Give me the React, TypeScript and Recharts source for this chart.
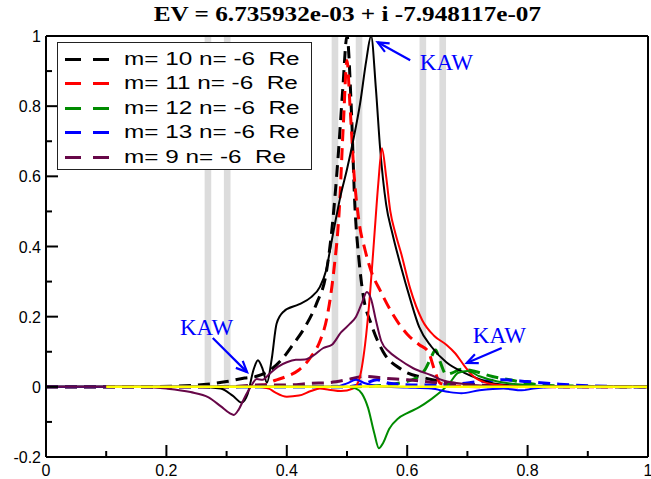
import React from "react";
import {
  LineChart,
  Line,
  XAxis,
  YAxis,
  ReferenceArea,
  ReferenceLine,
  ReferenceDot,
} from "recharts";

// axis ticks (minor + major)
const xTicks = [0, 0.1, 0.2, 0.3, 0.4, 0.5, 0.6, 0.7, 0.8, 0.9, 1];
const yTicks = [-0.2, -0.1, 0, 0.1, 0.2, 0.3, 0.4, 0.5, 0.6, 0.7, 0.8, 0.9, 1];
const xMajor = [0, 0.2, 0.4, 0.6, 0.8, 1];
const yMajor = [-0.2, 0, 0.2, 0.4, 0.6, 0.8, 1];

// gray vertical bands (x positions of the resonances)
const bandCenters = [0.269, 0.301, 0.48, 0.52, 0.626, 0.659];

// m=10 Re (black dashed)
const m10ReX = [0, 0.15, 0.25, 0.3, 0.33, 0.35, 0.37, 0.39, 0.41, 0.43, 0.45, 0.465, 0.475, 0.485, 0.493, 0.5, 0.507, 0.513, 0.52, 0.527, 0.54, 0.56, 0.59, 0.63, 0.67, 0.72, 0.8, 1];
const m10ReY = [0, 0, 0.005, 0.015, 0.025, 0.03, 0.045, 0.075, 0.12, 0.17, 0.24, 0.32, 0.45, 0.65, 0.85, 1.0, 0.8, 0.52, 0.36, 0.26, 0.18, 0.1, 0.05, 0.025, 0.012, 0.005, 0.001, 0];

// m=11 Re (red dashed)
const m11ReX = [0, 0.3, 0.36, 0.38, 0.4, 0.42, 0.44, 0.455, 0.467, 0.478, 0.487, 0.494, 0.5, 0.505, 0.512, 0.52, 0.53, 0.54, 0.555, 0.575, 0.6, 0.62, 0.635, 0.645, 0.655, 0.68, 0.75, 1];
const m11ReY = [0, 0, 0.005, 0.018, 0.03, 0.048, 0.085, 0.13, 0.2, 0.33, 0.5, 0.75, 0.93, 0.8, 0.6, 0.47, 0.39, 0.33, 0.275, 0.21, 0.15, 0.12, 0.1, 0.05, 0.01, 0.002, 0, 0];

// m=12 Re (green dashed)
const m12ReX = [0, 0.5, 0.55, 0.59, 0.615, 0.63, 0.64, 0.647, 0.655, 0.665, 0.675, 0.69, 0.71, 0.74, 0.77, 0.8, 0.85, 1];
const m12ReY = [0, 0, 0.003, 0.012, 0.025, 0.05, 0.085, 0.105, 0.07, 0.035, 0.04, 0.05, 0.045, 0.03, 0.02, 0.01, 0.003, 0];

// m=13 Re (blue dashed)
const m13ReX = [0, 0.5, 0.53, 0.55, 0.57, 0.62, 0.68, 0.72, 0.76, 0.8, 0.85, 0.9, 1];
const m13ReY = [0, 0, 0.01, 0.02, 0.01, 0.005, 0.008, 0.015, 0.02, 0.015, 0.008, 0.003, 0];

// m=9 Re (maroon dashed)
const m9ReX = [0, 0.3, 0.35, 0.4, 0.44, 0.47, 0.5, 0.53, 0.56, 0.6, 0.65, 0.7, 0.8, 1];
const m9ReY = [0, 0, 0.005, 0.005, 0.01, 0.012, 0.02, 0.03, 0.025, 0.02, 0.012, 0.006, 0.001, 0];

// m=10 Im (black solid)
const m10ImX = [0, 0.25, 0.29, 0.31, 0.325, 0.335, 0.345, 0.352, 0.36, 0.367, 0.375, 0.383, 0.395, 0.42, 0.44, 0.455, 0.465, 0.475, 0.49, 0.5, 0.51, 0.522, 0.532, 0.54, 0.548, 0.555, 0.565, 0.575, 0.59, 0.605, 0.62, 0.64, 0.665, 0.695, 0.72, 0.75, 0.8, 1];
const m10ImY = [0, 0, -0.005, -0.025, -0.045, -0.02, 0.05, 0.076, 0.05, 0.012, 0.08, 0.18, 0.215, 0.235, 0.255, 0.285, 0.33, 0.42, 0.55, 0.62, 0.7, 0.81, 0.93, 1.0, 0.85, 0.68, 0.52, 0.44, 0.34, 0.25, 0.17, 0.115, 0.07, 0.04, 0.022, 0.008, 0.002, 0];

// m=11 Im (red solid)
const m11ImX = [0, 0.35, 0.37, 0.38, 0.4, 0.42, 0.44, 0.455, 0.47, 0.49, 0.51, 0.52, 0.53, 0.538, 0.545, 0.552, 0.558, 0.565, 0.572, 0.58, 0.59, 0.605, 0.625, 0.645, 0.665, 0.68, 0.695, 0.71, 0.73, 0.76, 0.8, 1];
const m11ImY = [0, 0, -0.005, -0.015, -0.028, -0.025, -0.012, -0.005, -0.008, -0.012, -0.005, 0.02, 0.12, 0.26, 0.42, 0.58, 0.68, 0.6, 0.5, 0.44, 0.38, 0.28, 0.19, 0.145, 0.12, 0.095, 0.06, 0.03, 0.012, 0.004, 0, 0];

// m=12 Im (green solid)
const m12ImX = [0, 0.5, 0.515, 0.525, 0.535, 0.545, 0.553, 0.56, 0.57, 0.585, 0.6, 0.62, 0.64, 0.655, 0.67, 0.685, 0.7, 0.72, 0.75, 0.8, 0.85, 1];
const m12ImY = [0, 0, -0.005, -0.02, -0.06, -0.13, -0.175, -0.16, -0.12, -0.09, -0.075, -0.058, -0.035, -0.015, 0.01, 0.04, 0.045, 0.03, 0.015, 0.005, 0, 0];

// m=13 Im (blue solid)
const m13ImX = [0, 0.48, 0.5, 0.515, 0.53, 0.55, 0.6, 0.64, 0.67, 0.69, 0.72, 0.76, 0.79, 0.81, 0.85, 1];
const m13ImY = [0, 0, 0.01, 0.02, 0.01, 0.002, -0.002, -0.005, -0.015, -0.018, -0.01, -0.005, -0.01, -0.005, 0, 0];

// m=9 Im (maroon solid)
const m9ImX = [0, 0.15, 0.2, 0.24, 0.27, 0.29, 0.305, 0.312, 0.32, 0.33, 0.34, 0.35, 0.36, 0.37, 0.385, 0.4, 0.415, 0.43, 0.445, 0.46, 0.475, 0.49, 0.505, 0.515, 0.525, 0.533, 0.54, 0.548, 0.557, 0.57, 0.585, 0.61, 0.64, 0.66, 0.7, 0.75, 0.8, 1];
const m9ImY = [0, 0, -0.005, -0.015, -0.03, -0.055, -0.075, -0.08, -0.065, -0.03, 0, 0.022, 0.02, 0.035, 0.057, 0.07, 0.077, 0.078, 0.09, 0.11, 0.12, 0.155, 0.18, 0.2, 0.24, 0.27, 0.25, 0.19, 0.13, 0.1, 0.08, 0.053, 0.033, 0.018, 0.007, 0.002, 0, 0];

// yellow baseline curve
const yellowX = [0.1, 0.3, 0.5, 0.55, 0.6, 0.7, 1];
const yellowY = [0, 0, 0, 0.002, 0, 0, 0];

// KAW annotations: label anchor and arrow (tail -> head)
const kawLabelX = [0.621, 0.2226, 0.709];
const kawLabelY = [0.9026, 0.148, 0.125];
const kawTailX = [0.605, 0.277, 0.757];
const kawTailY = [0.931, 0.139, 0.111];
const kawHeadX = [0.551, 0.334, 0.699];
const kawHeadY = [0.982, 0.042, 0.068];

const legendNames = ["m= 10 n= -6  Re", "m= 11 n= -6  Re", "m= 12 n= -6  Re", "m= 13 n= -6  Re", "m= 9 n= -6  Re"];

const BLACK = "#000000";
const RED = "#ff0000";
const GREEN = "#008b00";
const BLUE = "#0000ff";
const MAROON = "#670748";
const YELLOW = "#ffff00";

const legendColors = [BLACK, RED, GREEN, BLUE, MAROON];

const toPts = (xs: number[], ys: number[]) => xs.map((x, i) => ({ x, y: ys[i] }));

const dashed = [
  { name: "m10Re", pts: toPts(m10ReX, m10ReY), color: BLACK },
  { name: "m11Re", pts: toPts(m11ReX, m11ReY), color: RED },
  { name: "m12Re", pts: toPts(m12ReX, m12ReY), color: GREEN },
  { name: "m13Re", pts: toPts(m13ReX, m13ReY), color: BLUE },
  { name: "m9Re", pts: toPts(m9ReX, m9ReY), color: MAROON },
];
const solid = [
  { name: "m10Im", pts: toPts(m10ImX, m10ImY), color: BLACK },
  { name: "m11Im", pts: toPts(m11ImX, m11ImY), color: RED },
  { name: "m12Im", pts: toPts(m12ImX, m12ImY), color: GREEN },
  { name: "m13Im", pts: toPts(m13ImX, m13ImY), color: BLUE },
  { name: "m9Im", pts: toPts(m9ImX, m9ImY), color: MAROON },
];

const SANS = "'Liberation Sans', Arial, sans-serif";
const SERIF = "'Liberation Serif', 'Times New Roman', serif";

const near = (a: number, list: number[]) => list.some((v) => Math.abs(v - a) < 1e-6);
const fmt = (v: number) => String(Math.round(v * 10) / 10);

const MAJ = 12;
const MIN = 6;

const BottomTick = (p: any) => {
  const v = p.payload.value;
  const major = near(v, xMajor);
  return (
    <g>
      <line x1={p.x} x2={p.x} y1={p.y} y2={p.y - (major ? MAJ : MIN)} stroke="#000" strokeWidth={2} />
      {major && (
        <text x={p.x} y={p.y + 19} textAnchor="middle" fontSize={16} fontFamily={SANS} fill="#000">
          {fmt(v)}
        </text>
      )}
    </g>
  );
};

const TopTick = (p: any) => {
  const major = near(p.payload.value, xMajor);
  return <line x1={p.x} x2={p.x} y1={p.y} y2={p.y + (major ? MAJ : MIN)} stroke="#000" strokeWidth={2} />;
};

const LeftTick = (p: any) => {
  const v = p.payload.value;
  const major = near(v, yMajor);
  return (
    <g>
      <line x1={p.x} x2={p.x + (major ? MAJ : MIN)} y1={p.y} y2={p.y} stroke="#000" strokeWidth={2} />
      {major && (
        <text x={p.x - 5} y={p.y + 6} textAnchor="end" fontSize={16} fontFamily={SANS} fill="#000">
          {fmt(v)}
        </text>
      )}
    </g>
  );
};

const RightTick = (p: any) => {
  const major = near(p.payload.value, yMajor);
  return <line x1={p.x} x2={p.x - (major ? MAJ : MIN)} y1={p.y} y2={p.y} stroke="#000" strokeWidth={2} />;
};

const Arrow = (p: any) => {
  const { x1, y1, x2, y2 } = p;
  if (x1 == null) return null;
  const ang = Math.atan2(y2 - y1, x2 - x1);
  const L = 12;
  const a = 0.42;
  const ax = x2 - L * Math.cos(ang - a);
  const ay = y2 - L * Math.sin(ang - a);
  const bx = x2 - L * Math.cos(ang + a);
  const by = y2 - L * Math.sin(ang + a);
  return (
    <g>
      <line x1={x1} y1={y1} x2={x2} y2={y2} stroke={BLUE} strokeWidth={2.2} />
      <polyline points={`${ax},${ay} ${x2},${y2} ${bx},${by}`} fill="none" stroke={BLUE} strokeWidth={2.2} />
    </g>
  );
};

const KawText = (p: any) => (
  <text x={p.cx} y={p.cy} fontSize={23} fontFamily={SERIF} fill={BLUE}>
    KAW
  </text>
);

const BAND_W = 0.011;

export default function App() {
  return (
    <div style={{ position: "absolute", left: 0, top: 0, width: 651, height: 479, background: "#fff" }}>
      <div
        style={{
          position: "absolute",
          left: 46,
          width: 602,
          top: 3,
          textAlign: "center",
          fontFamily: SERIF,
          fontWeight: "bold",
          fontSize: 21,
          lineHeight: "22px",
        }}
      >
        <span style={{ display: "inline-block", transform: "scaleX(1.2)" }}>
          EV = 6.735932e-03 + i -7.948117e-07
        </span>
      </div>
      <LineChart width={651} height={479} margin={{ top: 35, right: 0, bottom: 0, left: 0 }}>
        <XAxis
          dataKey="x"
          type="number"
          domain={[0, 1]}
          ticks={xTicks}
          interval={0}
          height={22}
          tickSize={0}
          tickMargin={0}
          tickLine={false}
          tick={<BottomTick />}
          axisLine={{ stroke: "#000", strokeWidth: 2 }}
          allowDataOverflow
        />
        <XAxis
          xAxisId="top"
          orientation="top"
          dataKey="x"
          type="number"
          domain={[0, 1]}
          ticks={xTicks}
          interval={0}
          height={1}
          tickSize={0}
          tickMargin={0}
          tickLine={false}
          tick={<TopTick />}
          axisLine={{ stroke: "#000", strokeWidth: 2 }}
        />
        <YAxis
          type="number"
          domain={[-0.2, 1]}
          ticks={yTicks}
          interval={0}
          width={46}
          tickSize={0}
          tickMargin={0}
          tickLine={false}
          tick={<LeftTick />}
          axisLine={{ stroke: "#000", strokeWidth: 2 }}
          allowDataOverflow
        />
        <YAxis
          yAxisId="right"
          orientation="right"
          type="number"
          domain={[-0.2, 1]}
          ticks={yTicks}
          interval={0}
          width={3}
          tickSize={0}
          tickMargin={0}
          tickLine={false}
          tick={<RightTick />}
          axisLine={{ stroke: "#000", strokeWidth: 2 }}
        />

        {bandCenters.map((c) => (
          <ReferenceArea
            key={c}
            x1={c - BAND_W / 2}
            x2={c + BAND_W / 2}
            y1={0}
            y2={1}
            fill="#dcdcdc"
            fillOpacity={1}
            stroke="none"
          />
        ))}

        {dashed.map((s) => (
          <Line
            key={s.name}
            data={s.pts}
            dataKey="y"
            type="monotone"
            stroke={s.color}
            strokeWidth={3}
            strokeDasharray="12 7"
            dot={false}
            activeDot={false}
            isAnimationActive={false}
          />
        ))}
        {solid.map((s) => (
          <Line
            key={s.name}
            data={s.pts}
            dataKey="y"
            type="monotone"
            stroke={s.color}
            strokeWidth={2}
            dot={false}
            activeDot={false}
            isAnimationActive={false}
          />
        ))}
        <Line
          data={toPts(yellowX, yellowY)}
          dataKey="y"
          type="linear"
          stroke={YELLOW}
          strokeWidth={2.5}
          dot={false}
          activeDot={false}
          isAnimationActive={false}
        />

        {kawTailX.map((tx, i) => (
          <ReferenceLine
            key={"arr" + i}
            segment={[
              { x: tx, y: kawTailY[i] },
              { x: kawHeadX[i], y: kawHeadY[i] },
            ]}
            shape={Arrow}
          />
        ))}
        {kawLabelX.map((lx, i) => (
          <ReferenceDot key={"kaw" + i} x={lx} y={kawLabelY[i]} r={0} shape={KawText} />
        ))}
      </LineChart>

      <div
        style={{
          position: "absolute",
          left: 57,
          top: 42,
          width: 255,
          height: 128,
          background: "#fff",
          border: "1.5px solid #222",
          boxSizing: "border-box",
        }}
      >
        {legendNames.map((n, i) => (
          <div
            key={n}
            style={{
              position: "absolute",
              left: 0,
              top: 4 + i * 24.5,
              height: 24,
              display: "flex",
              alignItems: "center",
              fontFamily: SANS,
              fontSize: 18,
              whiteSpace: "pre",
            }}
          >
            <span style={{ display: "inline-block", marginLeft: 7, width: 16, height: 3, background: legendColors[i] }} />
            <span style={{ display: "inline-block", marginLeft: 12, width: 16, height: 3, background: legendColors[i] }} />
            <span style={{ marginLeft: 15, display: "inline-block", transform: "scaleX(1.35)", transformOrigin: "left center" }}>{n}</span>
          </div>
        ))}
      </div>
    </div>
  );
}
